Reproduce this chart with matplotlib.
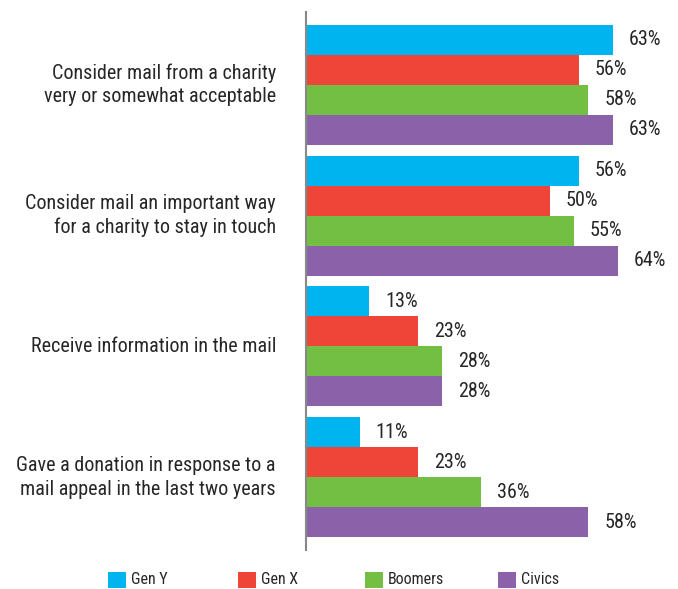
import matplotlib.pyplot as plt
from matplotlib.patches import Rectangle

plt.rcParams['font.family'] = ['Liberation Sans Narrow', 'Roboto Condensed', 'Liberation Sans', 'DejaVu Sans']

categories = ["Consider mail from a charity\nvery or somewhat acceptable",
              "Consider mail an important way\nfor a charity to stay in touch",
              "Receive information in the mail",
              "Gave a donation in response to a\nmail appeal in the last two years"]
series = ["Gen Y", "Gen X", "Boomers", "Civics"]
gen_y = [63, 56, 13, 11]
gen_x = [56, 50, 23, 23]
boomers = [58, 55, 28, 36]
civics = [63, 64, 28, 58]
colors = ["#00B5EF", "#EF4438", "#72BF44", "#8B62AA"]

W, H = 678, 589
fig = plt.figure(figsize=(W / 100, H / 100), dpi=100)
ax = fig.add_axes([306 / W, (H - 550) / H, (W - 306) / W, 538 / H])

bar_h = 30 / 131
offsets = [-1.5, -0.5, 0.5, 1.5]
text_col = "#262626"
for vals, col, off in zip([gen_y, gen_x, boomers, civics], colors, offsets):
    ys = [i + off * bar_h for i in range(len(categories))]
    ax.barh(ys, vals, height=bar_h, color=col, linewidth=0)
    for y, v in zip(ys, vals):
        ax.text(v + 3.3, y, f"{v}%", va="center", ha="left", fontsize=14.5, color=text_col)

ax.set_xlim(0, 372 / 4.87)
ax.set_ylim(3.557, -0.557)
ax.set_xticks([])
ax.set_yticks([])
for s in ["top", "right", "bottom"]:
    ax.spines[s].set_visible(False)
ax.spines["left"].set_color("#888888")
ax.spines["left"].set_linewidth(1.5)

# category labels, right aligned left of the axis
for i, cat in enumerate(categories):
    ax.text(-30 / 4.87, i, cat, ha="right", va="center", fontsize=14.5, color=text_col,
            linespacing=1.32, clip_on=False)

# legend drawn by hand
leg_x = [108, 238, 365, 498]
for x, name, col in zip(leg_x, series, colors):
    fig.patches.append(Rectangle((x / W, (H - 588) / H), 18 / W, 16 / H,
                                 transform=fig.transFigure, color=col, linewidth=0))
    fig.text((x + 23) / W, (H - 580) / H, name, ha="left", va="center", fontsize=11.5, color=text_col)

fig.savefig("out.png", dpi=100)
